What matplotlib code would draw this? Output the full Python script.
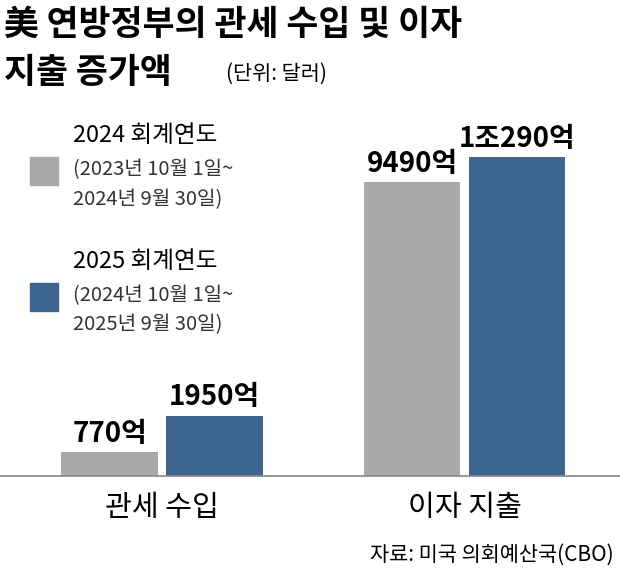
import matplotlib.pyplot as plt
import numpy as np

plt.rcParams['font.family'] = ['Noto Sans CJK KR', 'DejaVu Sans']

categories = ['관세 수입', '이자 지출']
fy2024 = [770, 9490]
fy2025 = [1950, 10290]
labels2024 = ['770억', '9490억']
labels2025 = ['1950억', '1조290억']
gray = '#a8a9ab'
blue = '#3e6590'

W, H = 620, 575
fig = plt.figure(figsize=(W / 100, H / 100), dpi=100)

ax = fig.add_axes([0, 1 - 476 / H, 1, (476 - 157) / H])
x = np.arange(len(categories))
w = 0.32
off = 0.1735
ax.bar(x - off, fy2024, w, color=gray)
ax.bar(x + off, fy2025, w, color=blue)
ax.set_xlim(-162 / 302.5, (W - 162) / 302.5)
ax.set_ylim(0, max(fy2025))
ax.axis('off')
ax.axhline(0, color='#888888', lw=1.2, clip_on=False)

for i in range(len(categories)):
    ax.annotate(labels2024[i], (x[i] - off, fy2024[i]), xytext=(0, 3),
                textcoords='offset points', ha='center', va='bottom',
                fontsize=20, fontweight='bold')
    ax.annotate(labels2025[i], (x[i] + off, fy2025[i]), xytext=(0, 3),
                textcoords='offset points', ha='center', va='bottom',
                fontsize=20, fontweight='bold')
    ax.annotate(categories[i], (x[i], 0), xytext=(0, -12),
                textcoords='offset points', ha='center', va='top', fontsize=21)


def px(xp, yp):
    return xp / W, 1 - yp / H


fig.text(*px(4, 24), '美 연방정부의 관세 수입 및 이자', fontsize=25, fontweight='bold', va='center')
fig.text(*px(4, 72), '지출 증가액', fontsize=25, fontweight='bold', va='center')
fig.text(*px(226, 74), '(단위: 달러)', fontsize=15, va='center')

fig.patches.append(plt.Rectangle(px(30, 185), 28 / W, 28 / H, color=gray, transform=fig.transFigure))
fig.text(*px(73, 135), '2024 회계연도', fontsize=17, va='center')
fig.text(*px(73, 170), '(2023년 10월 1일~', fontsize=14.5, va='center', color='#333333')
fig.text(*px(73, 200), '2024년 9월 30일)', fontsize=14.5, va='center', color='#333333')

fig.patches.append(plt.Rectangle(px(30, 311), 28 / W, 28 / H, color=blue, transform=fig.transFigure))
fig.text(*px(73, 262), '2025 회계연도', fontsize=17, va='center')
fig.text(*px(73, 296), '(2024년 10월 1일~', fontsize=14.5, va='center', color='#333333')
fig.text(*px(73, 325), '2025년 9월 30일)', fontsize=14.5, va='center', color='#333333')

fig.text(*px(614, 555), '자료: 미국 의회예산국(CBO)', fontsize=15, ha='right', va='center')

fig.savefig('out.png', dpi=100)
